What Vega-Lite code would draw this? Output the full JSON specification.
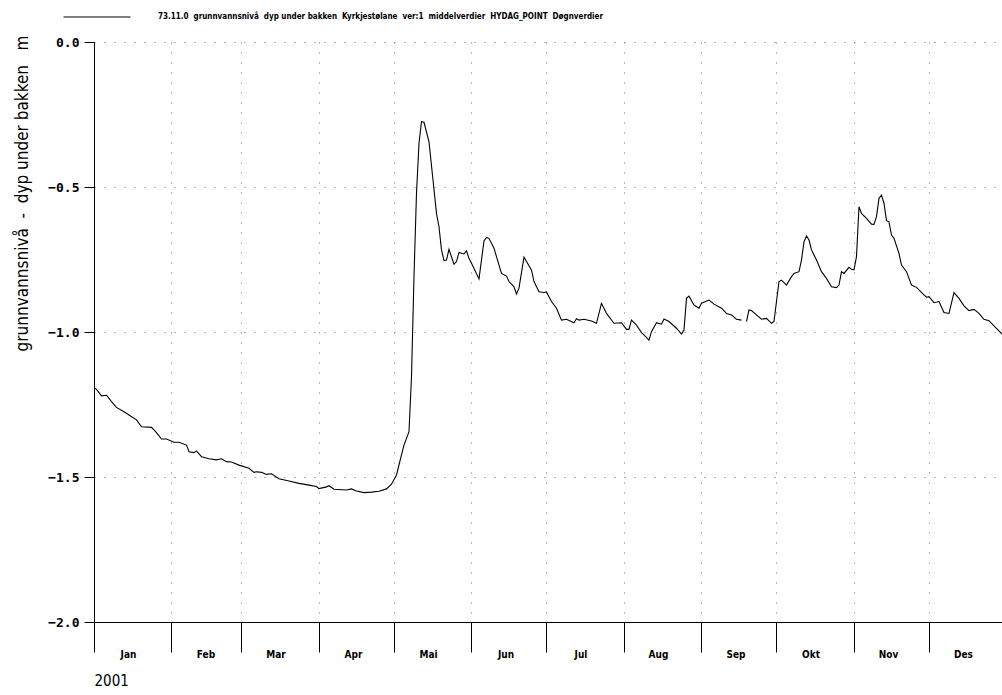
{
  "$schema": "https://vega.github.io/schema/vega-lite/v6.json",
  "width": 908,
  "height": 580,
  "autosize": {"type": "none"},
  "padding": {"left": 94, "top": 42, "right": 0, "bottom": 73},
  "background": "white",
  "config": {"view": {"stroke": null}},
  "data": {"values": [
    {"date": "2001-01-01", "level": -1.192}, {"date": "2001-01-02", "level": -1.198}, {"date": "2001-01-04", "level": -1.22},
    {"date": "2001-01-06", "level": -1.218}, {"date": "2001-01-08", "level": -1.24}, {"date": "2001-01-10", "level": -1.26},
    {"date": "2001-01-13", "level": -1.275}, {"date": "2001-01-15", "level": -1.286}, {"date": "2001-01-18", "level": -1.303},
    {"date": "2001-01-20", "level": -1.327}, {"date": "2001-01-24", "level": -1.329}, {"date": "2001-01-26", "level": -1.347},
    {"date": "2001-01-28", "level": -1.369}, {"date": "2001-01-30", "level": -1.369}, {"date": "2001-02-02", "level": -1.38},
    {"date": "2001-02-04", "level": -1.38}, {"date": "2001-02-07", "level": -1.39}, {"date": "2001-02-08", "level": -1.413},
    {"date": "2001-02-10", "level": -1.416}, {"date": "2001-02-11", "level": -1.41}, {"date": "2001-02-13", "level": -1.43},
    {"date": "2001-02-16", "level": -1.437}, {"date": "2001-02-19", "level": -1.441}, {"date": "2001-02-21", "level": -1.437},
    {"date": "2001-02-23", "level": -1.447}, {"date": "2001-02-25", "level": -1.448}, {"date": "2001-02-28", "level": -1.459},
    {"date": "2001-03-04", "level": -1.47}, {"date": "2001-03-06", "level": -1.484}, {"date": "2001-03-07", "level": -1.482},
    {"date": "2001-03-09", "level": -1.484}, {"date": "2001-03-11", "level": -1.491}, {"date": "2001-03-13", "level": -1.489},
    {"date": "2001-03-16", "level": -1.506}, {"date": "2001-03-20", "level": -1.514}, {"date": "2001-03-24", "level": -1.522},
    {"date": "2001-03-28", "level": -1.528}, {"date": "2001-03-31", "level": -1.533}, {"date": "2001-04-01", "level": -1.54},
    {"date": "2001-04-04", "level": -1.534}, {"date": "2001-04-05", "level": -1.53}, {"date": "2001-04-07", "level": -1.542},
    {"date": "2001-04-12", "level": -1.545}, {"date": "2001-04-14", "level": -1.541}, {"date": "2001-04-16", "level": -1.548},
    {"date": "2001-04-19", "level": -1.554}, {"date": "2001-04-22", "level": -1.552}, {"date": "2001-04-25", "level": -1.549},
    {"date": "2001-04-28", "level": -1.541}, {"date": "2001-04-30", "level": -1.525}, {"date": "2001-05-02", "level": -1.493},
    {"date": "2001-05-04", "level": -1.424}, {"date": "2001-05-05", "level": -1.39}, {"date": "2001-05-07", "level": -1.344},
    {"date": "2001-05-08", "level": -1.154}, {"date": "2001-05-09", "level": -0.809}, {"date": "2001-05-10", "level": -0.522},
    {"date": "2001-05-11", "level": -0.349}, {"date": "2001-05-12", "level": -0.275}, {"date": "2001-05-13", "level": -0.277},
    {"date": "2001-05-15", "level": -0.344}, {"date": "2001-05-18", "level": -0.591}, {"date": "2001-05-19", "level": -0.637},
    {"date": "2001-05-20", "level": -0.717}, {"date": "2001-05-21", "level": -0.754}, {"date": "2001-05-22", "level": -0.752},
    {"date": "2001-05-23", "level": -0.715}, {"date": "2001-05-25", "level": -0.766}, {"date": "2001-05-26", "level": -0.757},
    {"date": "2001-05-27", "level": -0.726}, {"date": "2001-05-29", "level": -0.731}, {"date": "2001-05-30", "level": -0.72},
    {"date": "2001-05-31", "level": -0.746}, {"date": "2001-06-01", "level": -0.763}, {"date": "2001-06-04", "level": -0.817},
    {"date": "2001-06-06", "level": -0.686}, {"date": "2001-06-07", "level": -0.674}, {"date": "2001-06-08", "level": -0.677},
    {"date": "2001-06-10", "level": -0.711}, {"date": "2001-06-11", "level": -0.74}, {"date": "2001-06-13", "level": -0.798},
    {"date": "2001-06-15", "level": -0.807}, {"date": "2001-06-16", "level": -0.826}, {"date": "2001-06-18", "level": -0.844},
    {"date": "2001-06-19", "level": -0.869}, {"date": "2001-06-20", "level": -0.849}, {"date": "2001-06-22", "level": -0.742},
    {"date": "2001-06-23", "level": -0.757}, {"date": "2001-06-25", "level": -0.786}, {"date": "2001-06-26", "level": -0.826},
    {"date": "2001-06-28", "level": -0.861}, {"date": "2001-06-30", "level": -0.864}, {"date": "2001-07-01", "level": -0.862},
    {"date": "2001-07-03", "level": -0.895}, {"date": "2001-07-05", "level": -0.918}, {"date": "2001-07-07", "level": -0.959},
    {"date": "2001-07-09", "level": -0.956}, {"date": "2001-07-12", "level": -0.968}, {"date": "2001-07-13", "level": -0.954},
    {"date": "2001-07-14", "level": -0.959}, {"date": "2001-07-16", "level": -0.956}, {"date": "2001-07-19", "level": -0.962},
    {"date": "2001-07-21", "level": -0.97}, {"date": "2001-07-23", "level": -0.901}, {"date": "2001-07-25", "level": -0.936},
    {"date": "2001-07-28", "level": -0.97}, {"date": "2001-07-31", "level": -0.968}, {"date": "2001-08-02", "level": -0.991},
    {"date": "2001-08-03", "level": -0.991}, {"date": "2001-08-04", "level": -0.959}, {"date": "2001-08-06", "level": -0.976},
    {"date": "2001-08-08", "level": -1.002}, {"date": "2001-08-09", "level": -1.01}, {"date": "2001-08-11", "level": -1.028},
    {"date": "2001-08-12", "level": -0.999}, {"date": "2001-08-14", "level": -0.968}, {"date": "2001-08-16", "level": -0.973},
    {"date": "2001-08-17", "level": -0.955}, {"date": "2001-08-19", "level": -0.964}, {"date": "2001-08-22", "level": -0.987},
    {"date": "2001-08-24", "level": -1.007}, {"date": "2001-08-25", "level": -0.993}, {"date": "2001-08-26", "level": -0.884},
    {"date": "2001-08-27", "level": -0.876}, {"date": "2001-08-29", "level": -0.907}, {"date": "2001-08-31", "level": -0.918},
    {"date": "2001-09-01", "level": -0.901}, {"date": "2001-09-04", "level": -0.89}, {"date": "2001-09-06", "level": -0.904},
    {"date": "2001-09-09", "level": -0.918}, {"date": "2001-09-11", "level": -0.936}, {"date": "2001-09-13", "level": -0.941},
    {"date": "2001-09-15", "level": -0.956}, {"date": "2001-09-17", "level": -0.959}, {"date": "2001-09-18", "level": null},
    {"date": "2001-09-19", "level": -0.964}, {"date": "2001-09-20", "level": -0.924}, {"date": "2001-09-21", "level": -0.926},
    {"date": "2001-09-23", "level": -0.941}, {"date": "2001-09-25", "level": -0.956}, {"date": "2001-09-27", "level": -0.953},
    {"date": "2001-09-29", "level": -0.97}, {"date": "2001-09-30", "level": -0.964}, {"date": "2001-10-02", "level": -0.826},
    {"date": "2001-10-03", "level": -0.821}, {"date": "2001-10-05", "level": -0.838}, {"date": "2001-10-07", "level": -0.809},
    {"date": "2001-10-08", "level": -0.798}, {"date": "2001-10-10", "level": -0.792}, {"date": "2001-10-11", "level": -0.752},
    {"date": "2001-10-12", "level": -0.689}, {"date": "2001-10-13", "level": -0.669}, {"date": "2001-10-14", "level": -0.683},
    {"date": "2001-10-15", "level": -0.717}, {"date": "2001-10-17", "level": -0.752}, {"date": "2001-10-19", "level": -0.792},
    {"date": "2001-10-21", "level": -0.815}, {"date": "2001-10-23", "level": -0.844}, {"date": "2001-10-25", "level": -0.847},
    {"date": "2001-10-26", "level": -0.838}, {"date": "2001-10-27", "level": -0.792}, {"date": "2001-10-28", "level": -0.798},
    {"date": "2001-10-30", "level": -0.777}, {"date": "2001-10-31", "level": -0.784}, {"date": "2001-11-01", "level": -0.786},
    {"date": "2001-11-02", "level": -0.74}, {"date": "2001-11-03", "level": -0.568}, {"date": "2001-11-04", "level": -0.591},
    {"date": "2001-11-06", "level": -0.608}, {"date": "2001-11-08", "level": -0.628}, {"date": "2001-11-09", "level": -0.629},
    {"date": "2001-11-10", "level": -0.602}, {"date": "2001-11-11", "level": -0.539}, {"date": "2001-11-12", "level": -0.528},
    {"date": "2001-11-13", "level": -0.556}, {"date": "2001-11-14", "level": -0.616}, {"date": "2001-11-15", "level": -0.62},
    {"date": "2001-11-16", "level": -0.666}, {"date": "2001-11-17", "level": -0.677}, {"date": "2001-11-19", "level": -0.729},
    {"date": "2001-11-20", "level": -0.769}, {"date": "2001-11-22", "level": -0.792}, {"date": "2001-11-24", "level": -0.838},
    {"date": "2001-11-26", "level": -0.846}, {"date": "2001-11-29", "level": -0.872}, {"date": "2001-11-30", "level": -0.88},
    {"date": "2001-12-01", "level": -0.878}, {"date": "2001-12-03", "level": -0.899}, {"date": "2001-12-05", "level": -0.895},
    {"date": "2001-12-07", "level": -0.933}, {"date": "2001-12-09", "level": -0.936}, {"date": "2001-12-11", "level": -0.864},
    {"date": "2001-12-13", "level": -0.884}, {"date": "2001-12-15", "level": -0.91}, {"date": "2001-12-17", "level": -0.926},
    {"date": "2001-12-19", "level": -0.922}, {"date": "2001-12-21", "level": -0.936}, {"date": "2001-12-23", "level": -0.956},
    {"date": "2001-12-25", "level": -0.961}, {"date": "2001-12-27", "level": -0.979}, {"date": "2001-12-30", "level": -1.005},
    {"date": "2001-12-31", "level": -1.01}
  ]},
  "mark": {"type": "line", "color": "black", "strokeWidth": 1.1, "clip": true, "invalid": "break-paths-show-domains"},
  "encoding": {
    "x": {
      "field": "date", "type": "temporal",
      "scale": {"type": "utc", "domain": [{"year": 2001, "month": 1, "date": 1, "utc": true}, {"year": 2001, "month": 12, "date": 30, "hours": 5, "utc": true}]},
      "axis": {
        "values": [
          {"year": 2001, "month": 1, "date": 1, "utc": true}, {"year": 2001, "month": 2, "date": 1, "utc": true},
          {"year": 2001, "month": 3, "date": 1, "utc": true}, {"year": 2001, "month": 4, "date": 1, "utc": true},
          {"year": 2001, "month": 5, "date": 1, "utc": true}, {"year": 2001, "month": 6, "date": 1, "utc": true},
          {"year": 2001, "month": 7, "date": 1, "utc": true}, {"year": 2001, "month": 8, "date": 1, "utc": true},
          {"year": 2001, "month": 9, "date": 1, "utc": true}, {"year": 2001, "month": 10, "date": 1, "utc": true},
          {"year": 2001, "month": 11, "date": 1, "utc": true}, {"year": 2001, "month": 12, "date": 1, "utc": true}
        ],
        "labelExpr": "['Jan','Feb','Mar','Apr','Mai','Jun','Jul','Aug','Sep','Okt','Nov','Des'][utcmonth(datum.value)]",
        "labelOffset": 34, "labelAlign": "center", "labelBaseline": "top", "labelPadding": -3,
        "labelFlush": false, "labelOverlap": false, "labelBound": false,
        "labelFont": "Liberation Sans Narrow, DejaVu Sans Condensed, sans-serif", "labelFontSize": 10, "labelFontWeight": "bold", "labelColor": "black",
        "tickSize": 30, "tickColor": "black", "tickWidth": 1,
        "domainColor": "black", "domainWidth": 1,
        "grid": true, "gridDash": [1, 9], "gridColor": "#777", "gridWidth": 1,
        "title": "2001", "titleAnchor": "start", "titleAlign": "left", "titleX": 0, "titleY": 58, "titleBaseline": "middle",
        "titleFont": "Liberation Sans Narrow, DejaVu Sans Condensed, sans-serif", "titleFontSize": 15, "titleFontWeight": "normal", "titleColor": "black"
      }
    },
    "y": {
      "field": "level", "type": "quantitative",
      "scale": {"domain": [-2, 0], "nice": false, "zero": false},
      "axis": {
        "values": [0, -0.5, -1, -1.5, -2], "format": ".1f",
        "labelFont": "DejaVu Sans Mono", "labelFontSize": 13, "labelFontWeight": "bold", "labelColor": "black", "labelPadding": 5,
        "tickSize": 10, "tickColor": "black", "domainColor": "black",
        "grid": true, "gridDash": [1, 9], "gridColor": "#777", "gridWidth": 1,
        "title": "grunnvannsnivå\u00a0 -\u00a0 dyp under bakken\u00a0\u00a0 m",
        "titleAnchor": "end", "titleX": -72, "titleY": -7, "titleBaseline": "middle",
        "titleFont": "Liberation Sans Narrow, DejaVu Sans Condensed, sans-serif", "titleFontSize": 17, "titleFontWeight": "normal", "titleColor": "black"
      }
    },
    "color": {
      "datum": "73.11.0\u00a0 grunnvannsnivå\u00a0 dyp under bakken\u00a0 Kyrkjestølane\u00a0 ver:1\u00a0 middelverdier\u00a0 HYDAG_POINT\u00a0 Døgnverdier",
      "scale": {"range": ["black"]},
      "legend": {
        "orient": "none", "legendX": -31, "legendY": -59, "title": null, "padding": 0,
        "symbolType": "stroke", "symbolSize": 4489, "symbolStrokeWidth": 1, "symbolOffset": 0,
        "labelFont": "Liberation Sans Narrow, DejaVu Sans Condensed, sans-serif", "labelFontSize": 8, "labelFontWeight": "bold",
        "labelLimit": 1000, "labelOffset": 27, "labelColor": "black"
      }
    }
  }
}
